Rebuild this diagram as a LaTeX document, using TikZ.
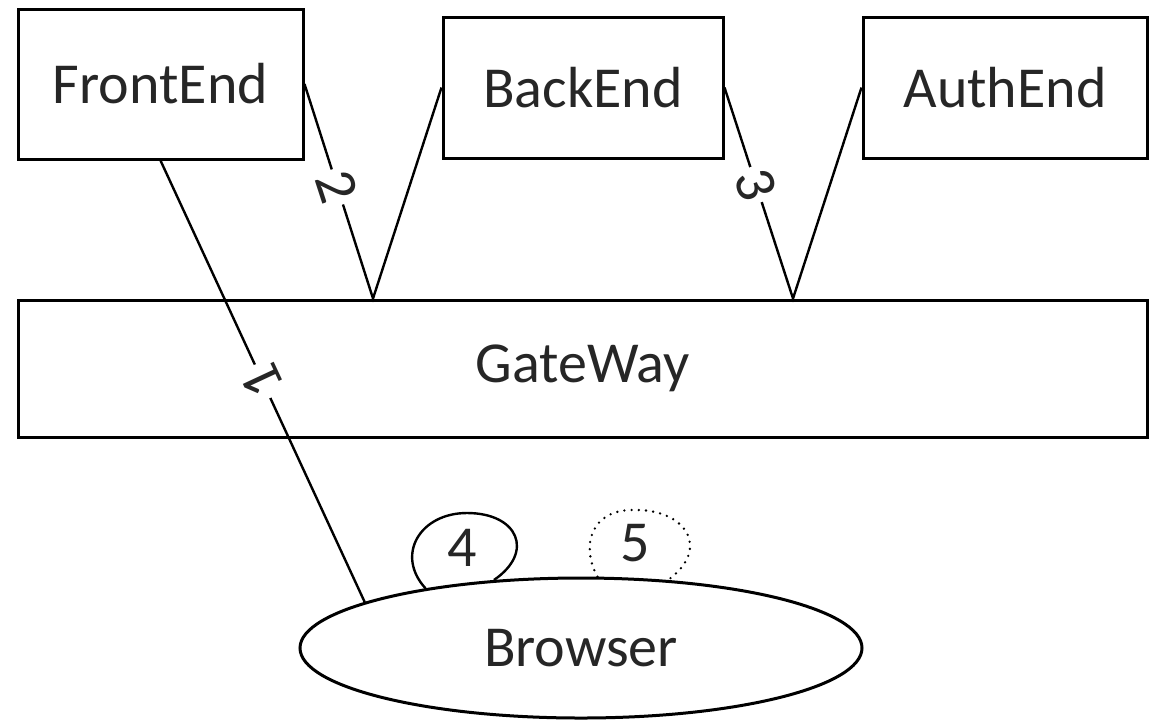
\documentclass[tikz,border=0pt]{standalone}
\usepackage{fontspec}
\setmainfont{Carlito}
\usetikzlibrary{shapes.geometric,calc}
\begin{document}
\begin{tikzpicture}[x=0.5pt,y=-0.5pt,
  box/.style={draw,line width=1.5pt,inner sep=0pt,text=black!85,font=\fontsize{29}{34}\selectfont},
  conn/.style={line width=1.2pt},
  num/.style={fill=white,inner sep=1.8pt,text=black!85,font=\fontsize{29}{34}\selectfont},
  lbl/.style={inner sep=0pt,text=black!85,font=\fontsize{29}{34}\selectfont}]
\useasboundingbox (0,0) rectangle (1160,719);
\node[box,minimum width=142.5pt,minimum height=75pt] (fe) at (160.5,84) {FrontEnd};
\node[box,minimum width=140pt,minimum height=70.5pt] (be) at (583,87.5) {BackEnd};
\node[box,minimum width=142pt,minimum height=70.5pt] (ae) at (1005,87.5) {AuthEnd};
\node[box,minimum width=564.5pt,minimum height=68.5pt] (gw) at (582.5,368.5) {GateWay};
\node[box,ellipse,minimum width=281pt,minimum height=70pt] (br) at (581,648) {Browser};
\coordinate (g1) at ($(gw.north)+(-209.5,0)$);
\coordinate (g2) at ($(gw.north)+(210.5,0)$);
\coordinate (t4) at (467,513);
\coordinate (t5) at (632,510);
\draw[conn] (br.168) -- node[num,rotate=115,pos=0.5]{1} (fe.south);
\draw[conn] (fe.east) -- node[num,rotate=-72,pos=0.48]{2} (g1) -- (be.west);
\draw[conn] (be.east) -- node[num,rotate=-72,pos=0.46]{3} (g2) -- (ae.west);
\draw[conn] (br.159) .. controls (395,555) and (420,513) .. (t4) .. controls (518,513) and (535,552) .. (br.142);
\draw[line width=1.3pt,line cap=round,dash pattern=on 0pt off 3.6pt] (br.77) .. controls (580,545) and (592,510) .. (t5) .. controls (685,508) and (712,548) .. (br.38);
\node[lbl] (n4) at (462,548) {4};
\node[lbl] (n5) at (635,543) {5};
\end{tikzpicture}
\end{document}
